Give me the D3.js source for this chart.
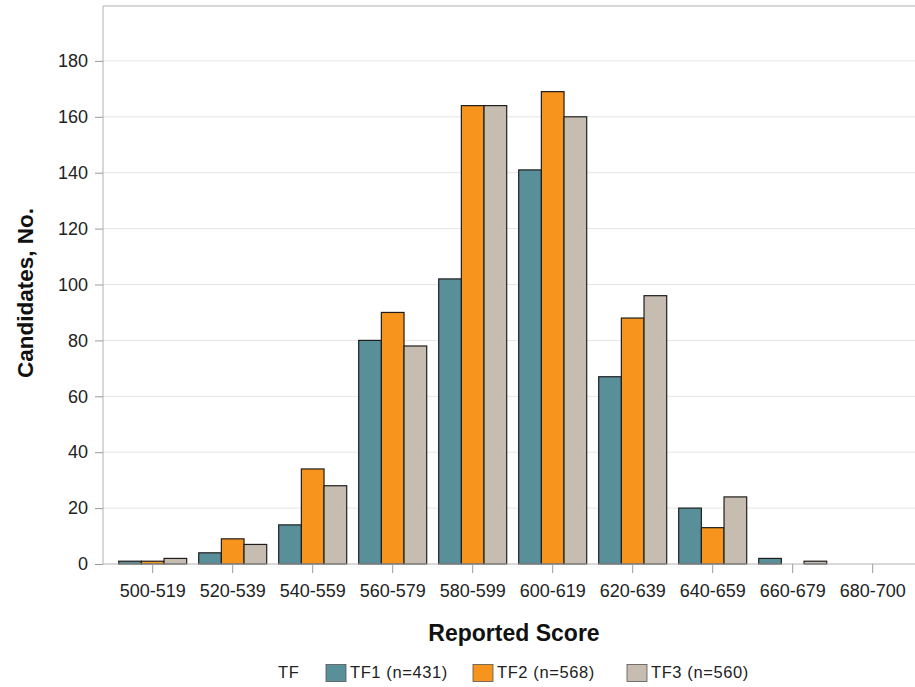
<!DOCTYPE html>
<html><head><meta charset="utf-8">
<script src="https://cdn.jsdelivr.net/npm/d3@7"></script>
<style>body{margin:0;background:#fff;}svg{display:block;font-family:"Liberation Sans",Arial,sans-serif;}</style>
</head><body>
<svg id="chart" width="915" height="687"></svg>
<script>
const categories = ["500-519","520-539","540-559","560-579","580-599","600-619","620-639","640-659","660-679","680-700"];
const seriesNames = ["TF1 (n=431)","TF2 (n=568)","TF3 (n=560)"];
const tf1 = [1,4,14,80,102,141,67,20,2,0];
const tf2 = [1,9,34,90,164,169,88,13,0,0];
const tf3 = [2,7,28,78,164,160,96,24,1,0];
const yTicks = [0,20,40,60,80,100,120,140,160,180];
const colors = ["#588f99","#f7941d","#c7bcb0"];

const svg = d3.select("#chart");
const mLeft = 103, mTop = 5, mBottom = 564;

const x = d3.scaleBand().domain(categories).range([112.7, 912.7]).paddingInner(0.15).paddingOuter(0.075);
const x1 = d3.scaleBand().domain(seriesNames).range([0, x.bandwidth()]);
const y = d3.scaleLinear().domain([0,200]).range([mBottom, mTop]);

// gridlines
svg.append("g").selectAll("line").data(yTicks.filter(d=>d>0)).join("line")
  .attr("x1", mLeft).attr("x2", 915).attr("y1", d=>y(d)).attr("y2", d=>y(d))
  .attr("stroke","#e5e5e5").attr("stroke-width",1);
// top border
svg.append("line").attr("x1",mLeft).attr("x2",915).attr("y1",6).attr("y2",6).attr("stroke","#b0b0b0");

const data = categories.map((c,i)=>({cat:c, vals:[tf1[i],tf2[i],tf3[i]]}));
svg.append("g").selectAll("g").data(data).join("g")
  .attr("transform", d=>`translate(${x(d.cat)},0)`)
  .selectAll("rect").data(d=>d.vals.map((v,j)=>({v, s:seriesNames[j], j})).filter(d=>d.v>0)).join("rect")
  .attr("x", d=>x1(d.s)).attr("width", x1.bandwidth())
  .attr("y", d=>y(d.v)).attr("height", d=>mBottom - y(d.v))
  .attr("fill", d=>colors[d.j]).attr("stroke","#1e1e1e").attr("stroke-width",1.2);

// y axis
const yAxis = svg.append("g").attr("transform",`translate(${mLeft},0)`)
  .call(d3.axisLeft(y).tickValues(yTicks).tickSize(8).tickPadding(7));
yAxis.select(".domain").attr("stroke","#b0b0b0").attr("d",`M0,${mBottom}V6`);
yAxis.selectAll(".tick line").attr("stroke","#999");
yAxis.selectAll("text").attr("font-size",18).attr("fill","#222").attr("font-family","Liberation Sans, Arial, sans-serif");

// x axis
const xAxis = svg.append("g").attr("transform",`translate(0,${mBottom})`)
  .call(d3.axisBottom(x).tickSize(9).tickPadding(11));
xAxis.select(".domain").attr("stroke","#b0b0b0").attr("d",`M${mLeft},0H915`);
xAxis.selectAll(".tick line").attr("stroke","#999");
xAxis.selectAll("text").attr("font-size",18).attr("fill","#222").attr("font-family","Liberation Sans, Arial, sans-serif");

// axis titles
svg.append("text").attr("x",514).attr("y",641).attr("text-anchor","middle")
  .attr("font-size",23).attr("font-weight","bold").attr("fill","#111").text("Reported Score");
svg.append("text").attr("transform","translate(33,293) rotate(-90)").attr("text-anchor","middle")
  .attr("font-size",22.5).attr("font-weight","bold").attr("fill","#111").text("Candidates, No.");

// legend
const lg = svg.append("g");
lg.append("text").attr("x",278).attr("y",678).attr("font-size",16.5).attr("letter-spacing",0.6).attr("fill","#222").text("TF");
const lx = [326, 473, 627];
seriesNames.forEach((s,i)=>{
  lg.append("rect").attr("x",lx[i]).attr("y",664.5).attr("width",20).attr("height",17)
    .attr("fill",colors[i]).attr("stroke","#555").attr("stroke-width",0.8);
  lg.append("text").attr("x",lx[i]+24).attr("y",678).attr("font-size",16.5).attr("letter-spacing",0.6).attr("fill","#222").text(s);
});
</script>
</body></html>
